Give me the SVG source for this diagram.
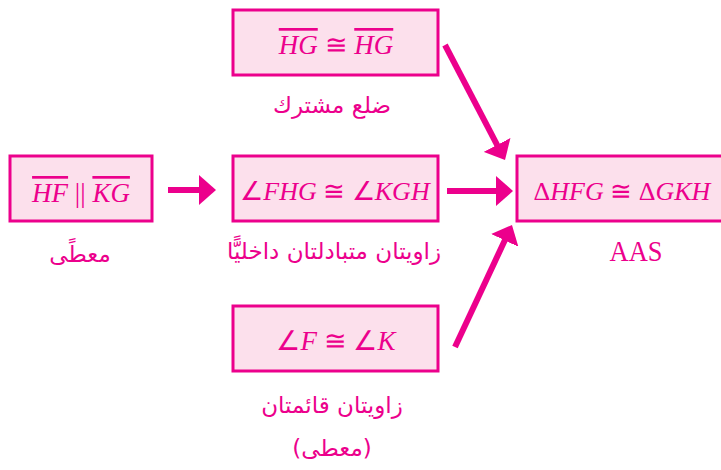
<svg xmlns="http://www.w3.org/2000/svg" width="721" height="470" viewBox="0 0 721 470">
<defs>
<style>
.box{fill:#FCE0EC;stroke:#EC008C;stroke-width:3}
.m{font-family:"Liberation Serif",serif;font-size:27px;fill:#EC008C}
.s{font-size:26px}
.i{font-style:italic}
.ov{text-decoration:overline}
.ar{font-family:"DejaVu Sans",sans-serif;font-size:23px;fill:#EC008C;direction:rtl}
.lbl{font-family:"Liberation Serif",serif;font-size:29px;fill:#EC008C}
.c{stroke:#EC008C;stroke-width:6;fill:none}
</style>
<marker id="ah" viewBox="0 0 17 30" markerWidth="17" markerHeight="30" refX="1" refY="15" orient="auto" markerUnits="userSpaceOnUse">
<path d="M0,0 L17,15 L0,30 z" fill="#EC008C"/>
</marker>
</defs>
<rect width="721" height="470" fill="#fff"/>
<g id="given1">
<rect class="box" x="10" y="156" width="142" height="65"/>
<text class="m" x="81" y="202" text-anchor="middle"><tspan class="i ov">HF</tspan> || <tspan class="i ov">KG</tspan></text>
<text class="ar" x="80" y="262" text-anchor="middle">معطًى</text>
</g>
<g id="side">
<rect class="box" x="233" y="10" width="205" height="65"/>
<text class="m" x="336" y="54" text-anchor="middle"><tspan class="i ov">HG</tspan> ≅ <tspan class="i ov">HG</tspan></text>
<text class="ar" x="332" y="113" text-anchor="middle">ضلع مشترك</text>
</g>
<g id="angle1">
<rect class="box" x="233" y="156" width="205" height="65"/>
<text class="m s" x="335" y="200" text-anchor="middle">∠<tspan class="i">FHG</tspan> ≅ ∠<tspan class="i">KGH</tspan></text>
<text class="ar" x="334" y="259" text-anchor="middle">زاويتان متبادلتان داخليًّا</text>
</g>
<g id="angle2">
<rect class="box" x="233" y="306" width="205" height="65"/>
<text class="m" x="336" y="350" text-anchor="middle">∠<tspan class="i">F</tspan> ≅ ∠<tspan class="i">K</tspan></text>
<text class="ar" x="332" y="413" text-anchor="middle">زاويتان قائمتان</text>
<text class="ar" x="332" y="456" text-anchor="middle">(معطى)</text>
</g>
<g id="result">
<rect class="box" x="517" y="156" width="215" height="65"/>
<text class="m s" x="622" y="200" text-anchor="middle">Δ<tspan class="i">HFG</tspan> ≅ Δ<tspan class="i">GKH</tspan></text>
<text class="lbl" x="636" y="261" text-anchor="middle" textLength="53" lengthAdjust="spacingAndGlyphs">AAS</text>
</g>
<g id="connectors">
<line class="c" x1="168" y1="190" x2="200" y2="190" marker-end="url(#ah)"/>
<line class="c" x1="447" y1="191" x2="497" y2="191" marker-end="url(#ah)"/>
<line class="c" x1="445" y1="45" x2="497.6" y2="145.8" marker-end="url(#ah)"/>
<line class="c" x1="455" y1="347" x2="505.2" y2="239.5" marker-end="url(#ah)"/>
</g>
</svg>
